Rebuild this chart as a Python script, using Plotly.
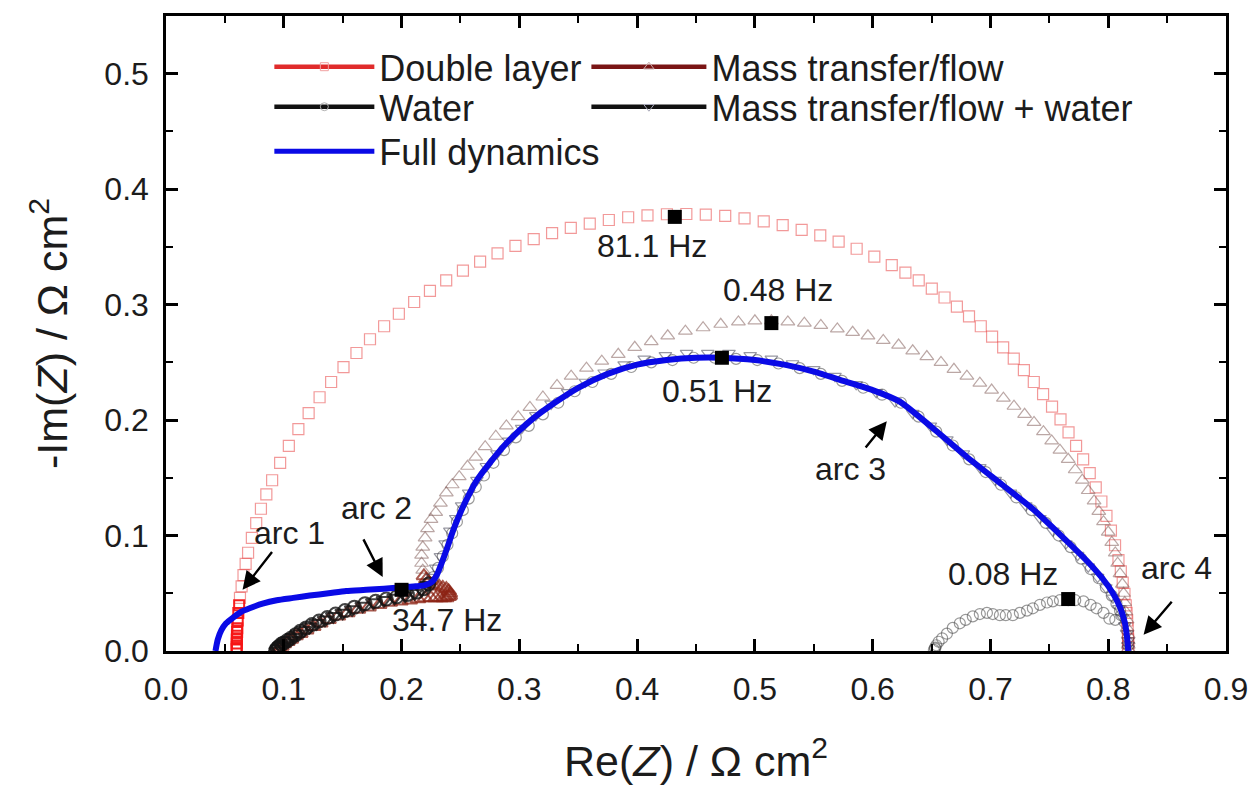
import plotly.graph_objects as go

# ---------------- data ----------------
# Double layer (open squares); high-frequency end first
dl_x = [0.0600, 0.0600, 0.0601, 0.0601, 0.0602, 0.0604, 0.0605, 0.0609, 0.0614, 0.0621, 0.0628, 0.0642, 0.0658,
        0.0676, 0.0697, 0.0729, 0.0766, 0.0806, 0.0852, 0.0901, 0.0969, 0.1043, 0.1124, 0.1211, 0.1304, 0.1402,
        0.1507, 0.1617, 0.1732, 0.1852, 0.1977, 0.2107, 0.2241, 0.2379, 0.2521, 0.2667, 0.2815, 0.2967, 0.3122,
        0.3278, 0.3437, 0.3598, 0.3760, 0.3924, 0.4088, 0.4253, 0.4418, 0.4583, 0.4748, 0.4912, 0.5075, 0.5236,
        0.5397, 0.5555, 0.5711, 0.5864, 0.6014, 0.6162, 0.6278, 0.6391, 0.6502, 0.6610, 0.6715, 0.6818, 0.6918,
        0.7014, 0.7108, 0.7198, 0.7284, 0.7368, 0.7447, 0.7523, 0.7595, 0.7663, 0.7727, 0.7787, 0.7843, 0.7894,
        0.7942, 0.7985, 0.8023, 0.8058, 0.8087, 0.8107, 0.8123, 0.8138, 0.8149, 0.8156, 0.8161, 0.8165, 0.8168,
        0.8169, 0.8169, 0.8170]
dl_y = [0.0017, 0.0033, 0.0066, 0.0099, 0.0132, 0.0165, 0.0198, 0.0264, 0.0330, 0.0396, 0.0461, 0.0559, 0.0657,
        0.0755, 0.0851, 0.0980, 0.1107, 0.1232, 0.1356, 0.1479, 0.1629, 0.1777, 0.1921, 0.2061, 0.2198, 0.2330,
        0.2458, 0.2581, 0.2700, 0.2813, 0.2921, 0.3023, 0.3119, 0.3210, 0.3294, 0.3372, 0.3444, 0.3509, 0.3568,
        0.3620, 0.3664, 0.3702, 0.3733, 0.3757, 0.3773, 0.3783, 0.3785, 0.3780, 0.3768, 0.3748, 0.3722, 0.3688,
        0.3647, 0.3600, 0.3545, 0.3484, 0.3416, 0.3342, 0.3278, 0.3210, 0.3138, 0.3062, 0.2983, 0.2899, 0.2813,
        0.2723, 0.2629, 0.2533, 0.2433, 0.2330, 0.2225, 0.2117, 0.2006, 0.1893, 0.1777, 0.1659, 0.1540, 0.1418,
        0.1295, 0.1170, 0.1043, 0.0916, 0.0787, 0.0690, 0.0592, 0.0494, 0.0396, 0.0330, 0.0264, 0.0198, 0.0132,
        0.0099, 0.0066, 0.0033]
dl_n_hf = 10   # dense high-frequency points (solid red bar)

# Mass transfer/flow (open up-triangles); high-frequency arc first
mt_x = [0.095, 0.096, 0.098, 0.100, 0.103, 0.106, 0.110, 0.114, 0.119, 0.125, 0.131, 0.138, 0.146, 0.154, 0.163,
        0.172, 0.181, 0.190, 0.199, 0.207, 0.214, 0.220, 0.225, 0.229, 0.233, 0.236, 0.238, 0.240, 0.241, 0.241,
        0.240, 0.238, 0.235, 0.232, 0.229, 0.226, 0.223, 0.221, 0.219,
        0.218, 0.217, 0.217, 0.218, 0.220, 0.222, 0.225, 0.229, 0.233, 0.238, 0.243, 0.249, 0.256, 0.263, 0.271,
        0.280, 0.289, 0.299, 0.309, 0.320, 0.332, 0.344, 0.357, 0.370, 0.384, 0.398, 0.412, 0.426, 0.441, 0.456,
        0.471, 0.486, 0.500, 0.514, 0.528, 0.542, 0.556, 0.570, 0.583, 0.596, 0.609, 0.622, 0.634, 0.646, 0.658,
        0.669, 0.680, 0.691, 0.701, 0.711, 0.720, 0.729, 0.737, 0.745, 0.752, 0.759, 0.766, 0.772, 0.778, 0.783,
        0.788, 0.792, 0.796, 0.800, 0.803, 0.806, 0.808, 0.810, 0.812, 0.813, 0.814, 0.815, 0.816, 0.816, 0.817,
        0.817, 0.817, 0.817]
mt_y = [0.000, 0.002, 0.004, 0.006, 0.008, 0.010, 0.013, 0.015, 0.018, 0.021, 0.024, 0.027, 0.030, 0.033, 0.036,
        0.038, 0.040, 0.042, 0.043, 0.044, 0.045, 0.046, 0.046, 0.046, 0.046, 0.046, 0.046, 0.047, 0.048, 0.050,
        0.052, 0.054, 0.055, 0.056, 0.057, 0.058, 0.060, 0.062, 0.065,
        0.070, 0.076, 0.083, 0.090, 0.098, 0.106, 0.114, 0.120, 0.128, 0.137, 0.144, 0.151, 0.160, 0.168, 0.177,
        0.186, 0.195, 0.203, 0.211, 0.220, 0.230, 0.238, 0.245, 0.251, 0.257, 0.263, 0.268, 0.273, 0.277, 0.280,
        0.283, 0.285, 0.286, 0.286, 0.285, 0.284, 0.282, 0.279, 0.276, 0.273, 0.269, 0.265, 0.260, 0.255, 0.250,
        0.244, 0.238, 0.232, 0.226, 0.219, 0.212, 0.205, 0.198, 0.190, 0.182, 0.174, 0.166, 0.157, 0.148, 0.139,
        0.130, 0.121, 0.112, 0.103, 0.094, 0.085, 0.076, 0.067, 0.058, 0.050, 0.042, 0.034, 0.027, 0.020, 0.014,
        0.009, 0.005, 0.002]
mt_n_hf = 39

# Water (open circles); high-frequency arc first, low-frequency hook last
wa_x = [0.093, 0.094, 0.095, 0.096, 0.098, 0.100, 0.103, 0.106, 0.110, 0.114, 0.119, 0.124, 0.130, 0.137, 0.144,
        0.152, 0.160, 0.169, 0.178, 0.187, 0.196, 0.205, 0.213, 0.219, 0.223,
        0.227, 0.231, 0.235, 0.239, 0.243, 0.247, 0.252, 0.257, 0.263, 0.270, 0.278, 0.287, 0.297, 0.308, 0.320,
        0.333, 0.347, 0.362, 0.378, 0.395, 0.412, 0.430, 0.448, 0.466, 0.484, 0.502, 0.520, 0.538, 0.556, 0.574,
        0.592, 0.608, 0.624, 0.639, 0.654, 0.668, 0.682, 0.696, 0.709, 0.722, 0.735, 0.747, 0.758, 0.768, 0.777,
        0.785, 0.792, 0.798, 0.803, 0.807, 0.810, 0.811,
        0.806, 0.801, 0.796, 0.790, 0.785, 0.779, 0.772, 0.766, 0.759, 0.753, 0.748, 0.742, 0.736, 0.731, 0.725,
        0.719, 0.713, 0.708, 0.702, 0.697, 0.691, 0.685, 0.679, 0.674, 0.668, 0.663, 0.659, 0.656, 0.654, 0.653,
        0.653, 0.652]
wa_y = [0.000, 0.002, 0.003, 0.004, 0.006, 0.007, 0.009, 0.011, 0.014, 0.017, 0.020, 0.023, 0.026, 0.029, 0.032,
        0.035, 0.038, 0.041, 0.043, 0.045, 0.047, 0.049, 0.051, 0.054, 0.058,
        0.064, 0.072, 0.082, 0.092, 0.102, 0.112, 0.122, 0.132, 0.142, 0.152, 0.163, 0.174, 0.185, 0.195, 0.205,
        0.215, 0.225, 0.233, 0.240, 0.246, 0.250, 0.252, 0.254, 0.254, 0.253, 0.252, 0.249, 0.245, 0.240, 0.234,
        0.228, 0.222, 0.215, 0.203, 0.190, 0.178, 0.166, 0.155, 0.144, 0.133, 0.122, 0.111, 0.100, 0.090, 0.080,
        0.071, 0.063, 0.055, 0.048, 0.041, 0.035, 0.031,
        0.027, 0.028, 0.033, 0.037, 0.040, 0.043, 0.044, 0.044, 0.044, 0.043, 0.042, 0.040, 0.037, 0.035, 0.033,
        0.031, 0.031, 0.031, 0.032, 0.033, 0.032, 0.030, 0.027, 0.024, 0.020, 0.015, 0.011, 0.008, 0.005, 0.003,
        0.002, 0.001]
wa_n_hf = 25

# Mass transfer/flow + water (open down-triangles)
mw_x = [0.094, 0.095, 0.097, 0.099, 0.101, 0.104, 0.108, 0.112, 0.117, 0.122, 0.128, 0.135, 0.142, 0.150, 0.158,
        0.167, 0.176, 0.185, 0.194, 0.203, 0.211, 0.217, 0.222,
        0.226, 0.229, 0.233, 0.237, 0.241, 0.246, 0.251, 0.257, 0.264, 0.272, 0.281, 0.291, 0.302, 0.314, 0.327,
        0.341, 0.356, 0.372, 0.389, 0.406, 0.424, 0.442, 0.460, 0.478, 0.496, 0.514, 0.532, 0.550, 0.568, 0.586,
        0.603, 0.619, 0.634, 0.649, 0.663, 0.677, 0.691, 0.704, 0.717, 0.730, 0.742, 0.753, 0.764, 0.774, 0.783,
        0.791, 0.798, 0.804, 0.809, 0.812, 0.814, 0.816, 0.817, 0.817, 0.817]
mw_y = [0.000, 0.002, 0.004, 0.005, 0.007, 0.009, 0.012, 0.015, 0.018, 0.021, 0.024, 0.027, 0.030, 0.033, 0.036,
        0.039, 0.042, 0.044, 0.046, 0.048, 0.050, 0.053, 0.057,
        0.064, 0.072, 0.082, 0.093, 0.104, 0.115, 0.126, 0.137, 0.148, 0.160, 0.171, 0.182, 0.193, 0.204, 0.214,
        0.224, 0.233, 0.241, 0.248, 0.253, 0.256, 0.258, 0.258, 0.258, 0.256, 0.253, 0.249, 0.244, 0.238, 0.231,
        0.224, 0.216, 0.206, 0.195, 0.183, 0.171, 0.159, 0.148, 0.137, 0.126, 0.115, 0.104, 0.093, 0.083, 0.073,
        0.064, 0.055, 0.046, 0.037, 0.029, 0.022, 0.015, 0.009, 0.005, 0.002]
mw_n_hf = 23

# Full dynamics (solid blue line)
fd_x = [0.042, 0.044, 0.047, 0.051, 0.057, 0.064, 0.071, 0.082, 0.094, 0.108, 0.122, 0.138, 0.153, 0.170, 0.185,
        0.200, 0.212, 0.220, 0.226, 0.230, 0.234, 0.239, 0.244, 0.250, 0.257, 0.264, 0.275, 0.290, 0.310, 0.330,
        0.350, 0.375, 0.400, 0.425, 0.450, 0.472, 0.500, 0.525, 0.550, 0.575, 0.600, 0.623, 0.650, 0.680, 0.710,
        0.736, 0.760, 0.782, 0.795, 0.804, 0.810, 0.814, 0.816, 0.817]
fd_y = [0.000, 0.010, 0.018, 0.024, 0.029, 0.034, 0.037, 0.041, 0.044, 0.046, 0.048, 0.050, 0.052, 0.053, 0.054,
        0.055, 0.056, 0.057, 0.060, 0.066, 0.076, 0.090, 0.105, 0.120, 0.135, 0.148, 0.163, 0.181, 0.200, 0.215,
        0.228, 0.240, 0.248, 0.252, 0.254, 0.254, 0.252, 0.248, 0.242, 0.234, 0.226, 0.216, 0.194, 0.168, 0.144,
        0.123, 0.100, 0.078, 0.063, 0.050, 0.038, 0.025, 0.012, 0.000]

# Highlighted frequency points
hz_x = [0.432, 0.514, 0.472, 0.766, 0.200]
hz_y = [0.376, 0.284, 0.254, 0.045, 0.053]
hz_text = ["81.1 Hz", "0.48 Hz", "0.51 Hz", "0.08 Hz", "34.7 Hz"]
hz_tx = [0.413, 0.520, 0.468, 0.711, 0.239]
hz_ty = [0.351, 0.313, 0.225, 0.067, 0.027]

# Arc labels and arrows
arc_text = ["arc 1", "arc 2", "arc 3", "arc 4"]
arc_tx = [0.105, 0.179, 0.581, 0.858]
arc_ty = [0.102, 0.124, 0.158, 0.072]
arr_tail_x = [0.091, 0.167, 0.593, 0.855]
arr_tail_y = [0.087, 0.098, 0.175, 0.044]
arr_tip_x = [0.065, 0.184, 0.612, 0.830]
arr_tip_y = [0.053, 0.064, 0.199, 0.014]

# Legend entries
leg_names = ["Double layer", "Mass transfer/flow", "Water", "Mass transfer/flow + water", "Full dynamics"]

FONT = "Liberation Sans, Arial, Helvetica, sans-serif"
TXT = "#1c1c1c"

fig = go.Figure()


def markers(x, y, symbol, size, color, width=1.2):
    fig.add_trace(go.Scatter(x=x, y=y, mode="markers", showlegend=False, hoverinfo="skip",
                             marker=dict(symbol=symbol, size=size, color=color, line=dict(width=width))))


# double layer
markers(dl_x[dl_n_hf:], dl_y[dl_n_hf:], "square-open", 11, "rgba(232,70,70,0.55)")
markers(dl_x[:dl_n_hf], dl_y[:dl_n_hf], "square-open", 10, "rgba(245,20,20,0.95)", 2)
# mass transfer/flow
markers(mt_x[mt_n_hf:], mt_y[mt_n_hf:], "triangle-up-open", 12, "rgba(120,80,75,0.5)")
markers(mt_x[:mt_n_hf], mt_y[:mt_n_hf], "triangle-up-open", 13, "rgba(140,35,20,0.75)", 2)
# water
markers(wa_x[wa_n_hf:], wa_y[wa_n_hf:], "circle-open", 11, "rgba(70,70,70,0.55)")
markers(wa_x[:wa_n_hf], wa_y[:wa_n_hf], "circle-open", 13, "rgba(20,20,20,0.8)", 2)
# mass transfer/flow + water
markers(mw_x[mw_n_hf:], mw_y[mw_n_hf:], "triangle-down-open", 11, "rgba(50,50,70,0.5)")
markers(mw_x[:mw_n_hf], mw_y[:mw_n_hf], "triangle-down-open", 13, "rgba(20,20,20,0.8)", 2)
# full dynamics
fig.add_trace(go.Scatter(x=fd_x, y=fd_y, mode="lines", showlegend=False, hoverinfo="skip",
                         line=dict(color="#0a0ae6", width=6, shape="spline", smoothing=0.6)))
# frequency markers
markers(hz_x, hz_y, "square", 14, "black", 0)

# legend-only traces, one small legend per entry (grid layout like the original)
leg_styles = [
    dict(mode="lines+markers", line=dict(color="#e02b2b", width=4.5),
         marker=dict(symbol="square-open", size=8, color="#f0a0a0")),
    dict(mode="lines+markers", line=dict(color="#7a1515", width=4.5),
         marker=dict(symbol="triangle-up-open", size=9, color="#c8aaaa")),
    dict(mode="lines+markers", line=dict(color="#111111", width=4.5),
         marker=dict(symbol="circle-open", size=8, color="#b0b0b0")),
    dict(mode="lines+markers", line=dict(color="#111111", width=4.5),
         marker=dict(symbol="triangle-down-open", size=9, color="#a8a8b8")),
    dict(mode="lines", line=dict(color="#0a0ae6", width=5)),
]
leg_px = [0.0975, 0.3966, 0.0975, 0.3966, 0.0975]
leg_py = [0.920, 0.920, 0.857, 0.787, 0.787]
leg_py[3] = 0.857
leg_iw = [100, 115, 100, 115, 100]
leg_ids = ["legend", "legend2", "legend3", "legend4", "legend5"]

legend_layout = {}
for name, st, lx, ly, iw, lid in zip(leg_names, leg_styles, leg_px, leg_py, leg_iw, leg_ids):
    fig.add_trace(go.Scatter(x=[None], y=[None], name=name, legend=lid, **st))
    legend_layout[lid] = dict(x=lx, y=ly, xanchor="left", yanchor="middle", bgcolor="rgba(0,0,0,0)",
                              font=dict(family=FONT, size=36, color=TXT), itemwidth=iw,
                              orientation="v", borderwidth=0)

annotations = []
for t, xx, yy in zip(hz_text, hz_tx, hz_ty):
    annotations.append(dict(x=xx, y=yy, text=t, showarrow=False, xref="x", yref="y",
                            font=dict(family=FONT, size=32, color=TXT)))
for t, xx, yy in zip(arc_text, arc_tx, arc_ty):
    annotations.append(dict(x=xx, y=yy, text=t, showarrow=False, xref="x", yref="y",
                            font=dict(family=FONT, size=32, color=TXT)))
for x0, y0, x1, y1 in zip(arr_tail_x, arr_tail_y, arr_tip_x, arr_tip_y):
    annotations.append(dict(x=x1, y=y1, ax=x0, ay=y0, xref="x", yref="y", axref="x", ayref="y",
                            text="", showarrow=True, arrowhead=2, arrowsize=1.5, arrowwidth=2.4,
                            arrowcolor="black"))

axis_common = dict(showline=True, linecolor="black", linewidth=2.5, mirror="ticks",
                   ticks="inside", ticklen=12, tickwidth=2.5, tickcolor="black",
                   showgrid=False, zeroline=False,
                   tickfont=dict(family=FONT, size=32, color=TXT))

fig.update_layout(
    width=1250, height=784,
    margin=dict(l=158, r=32, t=5, b=141),
    paper_bgcolor="white", plot_bgcolor="white",
    font=dict(family=FONT, color=TXT),
    xaxis=dict(range=[0, 0.9], tickmode="array",
               tickvals=[0.0, 0.1, 0.2, 0.3, 0.4, 0.5, 0.6, 0.7, 0.8, 0.9],
               ticktext=["0.0", "0.1", "0.2", "0.3", "0.4", "0.5", "0.6", "0.7", "0.8", "0.9"],
               ticklabelstandoff=8,
               minor=dict(ticks="inside", ticklen=7, tickwidth=2, tickcolor="black",
                          tickvals=[0.05, 0.15, 0.25, 0.35, 0.45, 0.55, 0.65, 0.75, 0.85]),
               title=dict(text="Re(<i>Z</i>) / Ω cm<sup>2</sup>", font=dict(family=FONT, size=43, color=TXT),
                          standoff=40),
               **axis_common),
    yaxis=dict(range=[0, 0.55], tickmode="array",
               tickvals=[0.0, 0.1, 0.2, 0.3, 0.4, 0.5],
               ticktext=["0.0", "0.1", "0.2", "0.3", "0.4", "0.5"],
               ticklabelstandoff=8,
               minor=dict(ticks="inside", ticklen=7, tickwidth=2, tickcolor="black",
                          tickvals=[0.05, 0.15, 0.25, 0.35, 0.45]),
               title=dict(text="-Im(<i>Z</i>) / Ω cm<sup>2</sup>", font=dict(family=FONT, size=43, color=TXT),
                          standoff=24),
               **axis_common),
    annotations=annotations,
    **legend_layout,
)

fig.write_html("out.html")
